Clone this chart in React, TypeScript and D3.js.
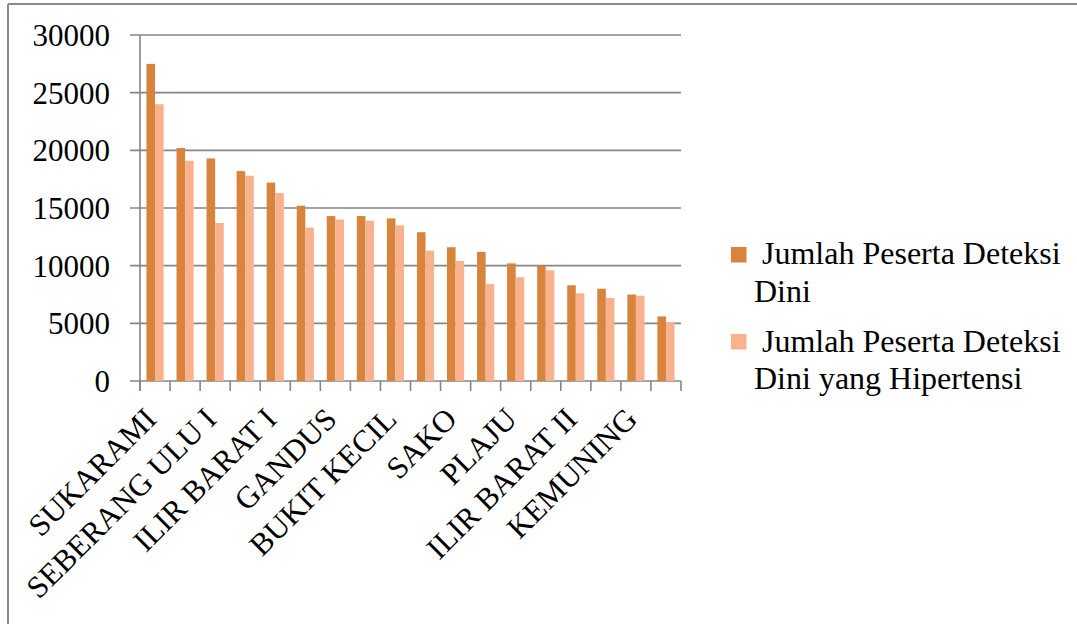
import React from "react";
import * as d3 from "d3";

const categories = [
  "SUKARAMI", "KALIDONI", "SEBERANG ULU I", "ILIR TIMUR I", "ILIR BARAT I", "SEMATANG BORANG",
  "GANDUS", "ILIR TIMUR II", "BUKIT KECIL", "KERTAPATI", "SAKO", "ALANG-ALANG LEBAR",
  "PLAJU", "SEBERANG ULU II", "ILIR BARAT II", "JAKABARING", "KEMUNING", "ILIR TIMUR III",
];
const deteksiDini = [27500, 20200, 19300, 18200, 17200, 15200, 14300, 14300, 14100, 12900, 11600, 11200, 10200, 10000, 8300, 8000, 7500, 5600];
const deteksiHipertensi = [24000, 19100, 13700, 17800, 16300, 13300, 14000, 13900, 13500, 11300, 10400, 8400, 9000, 9600, 7600, 7200, 7400, 5100];
const yTicks = [0, 5000, 10000, 15000, 20000, 25000, 30000];
const seriesNames = ["Jumlah Peserta Deteksi", "Dini"];
const seriesNames2 = ["Jumlah Peserta Deteksi", "Dini yang Hipertensi"];

const W = 1077, H = 624;
const left = 140, right = 681, top = 35, bottom = 381;
const FONT = "Liberation Serif, serif";
const GRID = "#868686";
const C1 = "#D9843D";
const C2 = "#F9B28E";

export default function App() {
  const x = d3.scaleBand<string>().domain(categories).range([left, right]).paddingInner(0).paddingOuter(0);
  const y = d3.scaleLinear().domain([0, 30000]).range([bottom, top]);
  const bw = x.bandwidth() / 3.5;
  const ticksX = d3.range(categories.length + 1).map((i) => left + i * x.step());

  return (
    <svg width={W} height={H} style={{ position: "absolute", left: 0, top: 0, background: "#fff" }} fontFamily={FONT}>
      <rect x={0} y={0} width={W} height={H} fill="#fff" />
      {/* outer border */}
      <line x1={8} y1={4} x2={W} y2={4} stroke="#8a8a8a" strokeWidth={2} />
      <line x1={8} y1={4} x2={8} y2={H} stroke="#8a8a8a" strokeWidth={2} />
      {/* gridlines */}
      {yTicks.map((t) => (
        <line key={t} x1={left - 10} x2={right} y1={y(t)} y2={y(t)} stroke={GRID} strokeWidth={1.6} />
      ))}
      {/* y axis */}
      <line x1={left} x2={left} y1={top} y2={bottom + 10} stroke={GRID} strokeWidth={1.6} />
      {ticksX.map((tx, i) => (
        <line key={i} x1={tx} x2={tx} y1={bottom} y2={bottom + 10} stroke={GRID} strokeWidth={1.6} />
      ))}
      {/* bars */}
      {categories.map((c, i) => {
        const x0 = (x(c) as number) + 0.75 * bw;
        return (
          <g key={c}>
            <rect x={x0} y={y(deteksiDini[i])} width={bw} height={bottom - y(deteksiDini[i])} fill={C1} />
            <rect x={x0 + bw} y={y(deteksiHipertensi[i])} width={bw} height={bottom - y(deteksiHipertensi[i])} fill={C2} />
          </g>
        );
      })}
      {/* y tick labels */}
      {yTicks.map((t) => (
        <text key={t} x={110} y={y(t)} dy="0.35em" textAnchor="end" fontSize={31} fill="#000">
          {t}
        </text>
      ))}
      {/* x labels */}
      {categories.map((c, i) =>
        i % 2 === 0 ? (
          <text
            key={c}
            textAnchor="end"
            fontSize={31}
            fill="#000"
            transform={`translate(${(x(c) as number) + x.bandwidth() / 2 + 3},${bottom + 40}) rotate(-45)`}
          >
            {c}
          </text>
        ) : null
      )}
      {/* legend */}
      <rect x={731} y={247} width={15.5} height={15.5} fill={C1} />
      <text x={754} y={264} fontSize={32} fill="#000" xmlSpace="preserve">
        <tspan x={754} y={264}>{" " + seriesNames[0]}</tspan>
        <tspan x={754} y={301.5}>{seriesNames[1]}</tspan>
      </text>
      <rect x={731} y={334} width={15.5} height={15.5} fill={C2} />
      <text x={754} y={351.5} fontSize={32} fill="#000" xmlSpace="preserve">
        <tspan x={754} y={351.5}>{" " + seriesNames2[0]}</tspan>
        <tspan x={754} y={389}>{seriesNames2[1]}</tspan>
      </text>
    </svg>
  );
}
